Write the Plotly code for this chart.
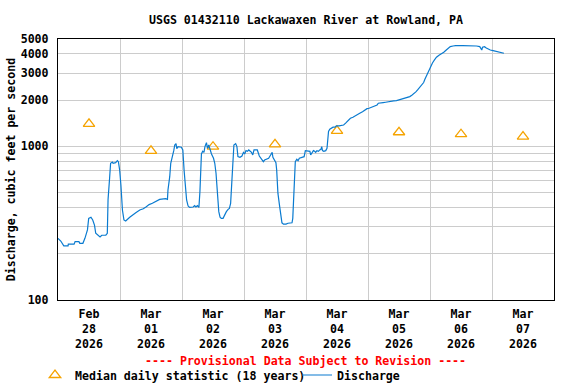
import pandas as pd
import plotly.graph_objects as go

# Discharge: hours since 2026-02-28 00:00, cubic feet per second
q_hours = [0.0, 1.07, 2.24, 3.90, 3.99, 6.23, 6.62, 8.09, 8.47, 9.64, 10.42, 11.40, 11.88, 12.76,
           13.44, 14.12, 14.61, 15.29, 16.27, 16.95, 18.51, 19.09, 19.38, 19.97, 20.36, 21.04,
           21.33, 22.31, 22.99, 23.38, 23.87, 24.35, 24.94, 25.52, 26.20, 27.76, 28.83, 30.10,
           31.66, 33.02, 34.19, 35.26, 36.53, 38.18, 39.35, 41.69, 42.37, 42.57, 43.25, 43.64,
           44.32, 44.81, 45.20, 45.68,
           45.98, 46.46, 47.73, 48.32, 48.80, 49.29, 49.78, 50.36, 50.95, 52.31, 52.89, 53.38,
           53.97, 54.55, 54.94, 55.52, 56.01, 56.50, 56.89, 57.47, 57.86, 58.35, 58.84, 59.42,
           60.20, 60.69, 61.17, 61.66, 62.24, 62.73, 63.22, 63.90, 64.49, 65.17, 65.85, 66.34,
           66.82, 67.11, 67.60, 68.09, 68.77, 69.26, 69.65, 70.43, 71.21, 71.79, 72.28, 72.77,
           73.35, 73.84, 74.91, 75.40, 75.88, 77.15, 77.93, 78.71, 79.49, 79.97, 81.53, 82.31,
           82.90, 83.19, 83.87, 84.36, 84.65, 85.14, 85.72, 86.21, 86.69, 87.28, 88.25, 89.03,
           90.59, 90.88, 91.37, 91.86, 92.44, 92.93, 93.42, 94.68, 95.27, 95.75, 96.83, 97.51,
           97.80, 98.29, 98.87, 99.36, 99.75, 100.23, 100.82, 101.31, 101.79, 102.09, 102.38,
           102.87, 103.64, 104.13, 104.42, 104.72, 105.20, 105.98, 106.47, 107.25, 107.74,
           108.81, 109.78, 110.56, 111.34, 112.41, 113.19, 114.16, 115.24, 116.02, 116.80,
           117.87, 118.84, 119.62, 120.40, 121.18, 121.96, 122.74, 123.52, 124.00, 124.78,
           125.85, 126.83, 127.90, 128.87, 129.94, 131.02, 131.99, 133.06, 134.14, 135.11,
           136.18, 136.96, 137.74, 138.52, 139.20, 139.98, 140.76, 141.54, 142.02, 142.61,
           143.10, 143.58, 144.17, 144.95, 145.73, 146.50, 147.48, 148.55, 149.33, 150.30,
           151.08, 151.86, 152.93, 153.91, 156.73, 159.36, 161.99, 163.26, 163.75, 164.04,
           164.33, 165.11, 165.79, 166.57, 167.35, 168.42, 169.69, 170.95, 171.73, 172.61]
q_values = [252, 242, 225, 225, 231, 231, 240, 240, 234, 234, 252, 286, 340, 346,
            332, 307, 272, 264, 257, 264, 264, 272, 452, 620, 776, 791,
            776, 783, 807, 795, 702, 561, 385, 332, 327, 346, 358, 370,
            385, 393, 405, 418, 426, 439, 452, 457, 452, 520, 635, 776,
            857, 938, 1021, 1042,
            966, 996, 987, 948, 702, 520, 448, 409, 401, 403, 411, 403,
            411, 401, 508, 892, 929, 914, 996, 1058, 972, 1021, 948, 892,
            837, 776, 669, 520, 376, 346, 340, 340, 358, 376, 389, 395,
            426, 520, 756, 1021, 1042, 996, 857, 849, 866, 914, 892, 938,
            929, 948, 914, 879, 948, 948, 866, 824, 795, 815, 837, 879,
            914, 849, 815, 783, 702, 494, 416, 349, 318, 312, 312, 316,
            318, 340, 570, 795, 824, 807, 837, 849, 857, 938, 938, 929,
            879, 914, 938, 929, 914, 938, 929, 948, 958, 996, 938,
            929, 938, 972, 1073, 1252, 1292, 1313, 1333, 1333, 1360,
            1360, 1374, 1378, 1416, 1470, 1524, 1548, 1580, 1601, 1641,
            1682, 1726, 1760, 1770, 1796, 1813, 1832, 1860, 1908, 1908,
            1926, 1937, 1956, 1968, 1976, 1985, 2005, 2036, 2057, 2076,
            2108, 2152, 2196, 2263, 2329, 2422, 2510, 2604, 2736, 2873,
            3012, 3163, 3324, 3490, 3652, 3803, 3918, 3996, 4098, 4242,
            4371, 4458, 4503, 4525, 4525, 4525, 4503, 4458, 4350, 4242,
            4415, 4458, 4371, 4286, 4242, 4199, 4158, 4098, 4056, 4036]

# Median daily statistic (18 years), one per day at noon
median_days = ["2026-02-28", "2026-03-01", "2026-03-02", "2026-03-03",
               "2026-03-04", "2026-03-05", "2026-03-06", "2026-03-07"]
median_values = [1400, 935, 995, 1032, 1262, 1236, 1200, 1158]

# Axis labels
day_labels = ["Feb<br>28<br>2026", "Mar<br>01<br>2026", "Mar<br>02<br>2026", "Mar<br>03<br>2026",
              "Mar<br>04<br>2026", "Mar<br>05<br>2026", "Mar<br>06<br>2026", "Mar<br>07<br>2026"]
y_tickvals = [100, 1000, 2000, 3000, 4000, 5000]
y_minor = [200, 300, 400, 500, 600, 700, 800, 900]

base = pd.Timestamp("2026-02-28 00:00")
end = pd.Timestamp("2026-03-08 00:00")
q_times = base + pd.to_timedelta(q_hours, unit="h")
noon = [pd.Timestamp(d) + pd.Timedelta(hours=12) for d in median_days]
midnights = [pd.Timestamp(d) for d in median_days[1:]]

FONT = "DejaVu Sans Mono"
FS = 11.6
W, H = 576, 384
L, R, T, B = 58, 22, 39, 84
PW, PH = W - L - R, H - T - B

fig = go.Figure()
fig.add_trace(go.Scatter(
    x=noon, y=median_values, mode="markers",
    name="Median daily statistic (18 years)", legend="legend",
    marker=dict(symbol="triangle-up-open", size=10, color="#f5a300",
                line=dict(width=1.3, color="#f5a300")),
))
fig.add_trace(go.Scatter(
    x=q_times, y=q_values, mode="lines", name="Discharge", legend="legend2",
    line=dict(color="#0a7bd0", width=1.2),
))

legend_common = dict(orientation="h", xanchor="left", xref="container",
                     yanchor="middle", yref="container",
                     font=dict(family=FONT, size=FS, color="black", weight="bold"),
                     itemwidth=30, bgcolor="rgba(0,0,0,0)")

fig.update_layout(
    width=W, height=H,
    margin=dict(l=L, r=R, t=T, b=B, autoexpand=False),
    paper_bgcolor="white", plot_bgcolor="white",
    font=dict(family=FONT, size=FS, color="black", weight="bold"),
    title=dict(text="USGS 01432110 Lackawaxen River at Rowland, PA",
               xref="container", x=306 / W, xanchor="center",
               yref="container", y=1 - 20 / H, yanchor="middle",
               font=dict(family=FONT, size=FS, color="black", weight="bold")),
    showlegend=True,
    legend=dict(x=35 / W, y=1 - 375 / H, **legend_common),
    legend2=dict(x=297 / W, y=1 - 375 / H, **legend_common),
    annotations=[dict(
        text="---- Provisional Data Subject to Revision ----",
        xref="paper", yref="paper", x=(305 - L) / PW, y=-(361 - (T + PH)) / PH,
        xanchor="center", yanchor="middle", showarrow=False,
        font=dict(family=FONT, size=FS, color="red", weight="bold"),
    )],
)

fig.update_xaxes(
    range=[base, end], automargin=False,
    tickvals=noon, ticktext=day_labels, ticks="", showgrid=False,
    minor=dict(tickvals=midnights, showgrid=True, gridcolor="#cccccc", gridwidth=1.2, ticks=""),
    showline=True, linecolor="black", linewidth=1.2, mirror=True,
    ticklabelstandoff=3, zeroline=False,
)
fig.update_yaxes(
    type="log", range=[2, 3.69897], automargin=False,
    tickvals=y_tickvals, ticktext=[str(v) for v in y_tickvals], ticks="",
    showgrid=True, gridcolor="#cccccc", gridwidth=1.2,
    minor=dict(tickvals=y_minor, showgrid=True, gridcolor="#cccccc", gridwidth=1.2, ticks=""),
    showline=True, linecolor="black", linewidth=1.2, mirror=True,
    ticklabelstandoff=6, zeroline=False,
    title=dict(text="Discharge, cubic feet per second", standoff=2,
               font=dict(family=FONT, size=FS, color="black", weight="bold")),
)

fig.write_html("out.html", config={"displayModeBar": False},
               post_script="document.body.style.margin='0';")
